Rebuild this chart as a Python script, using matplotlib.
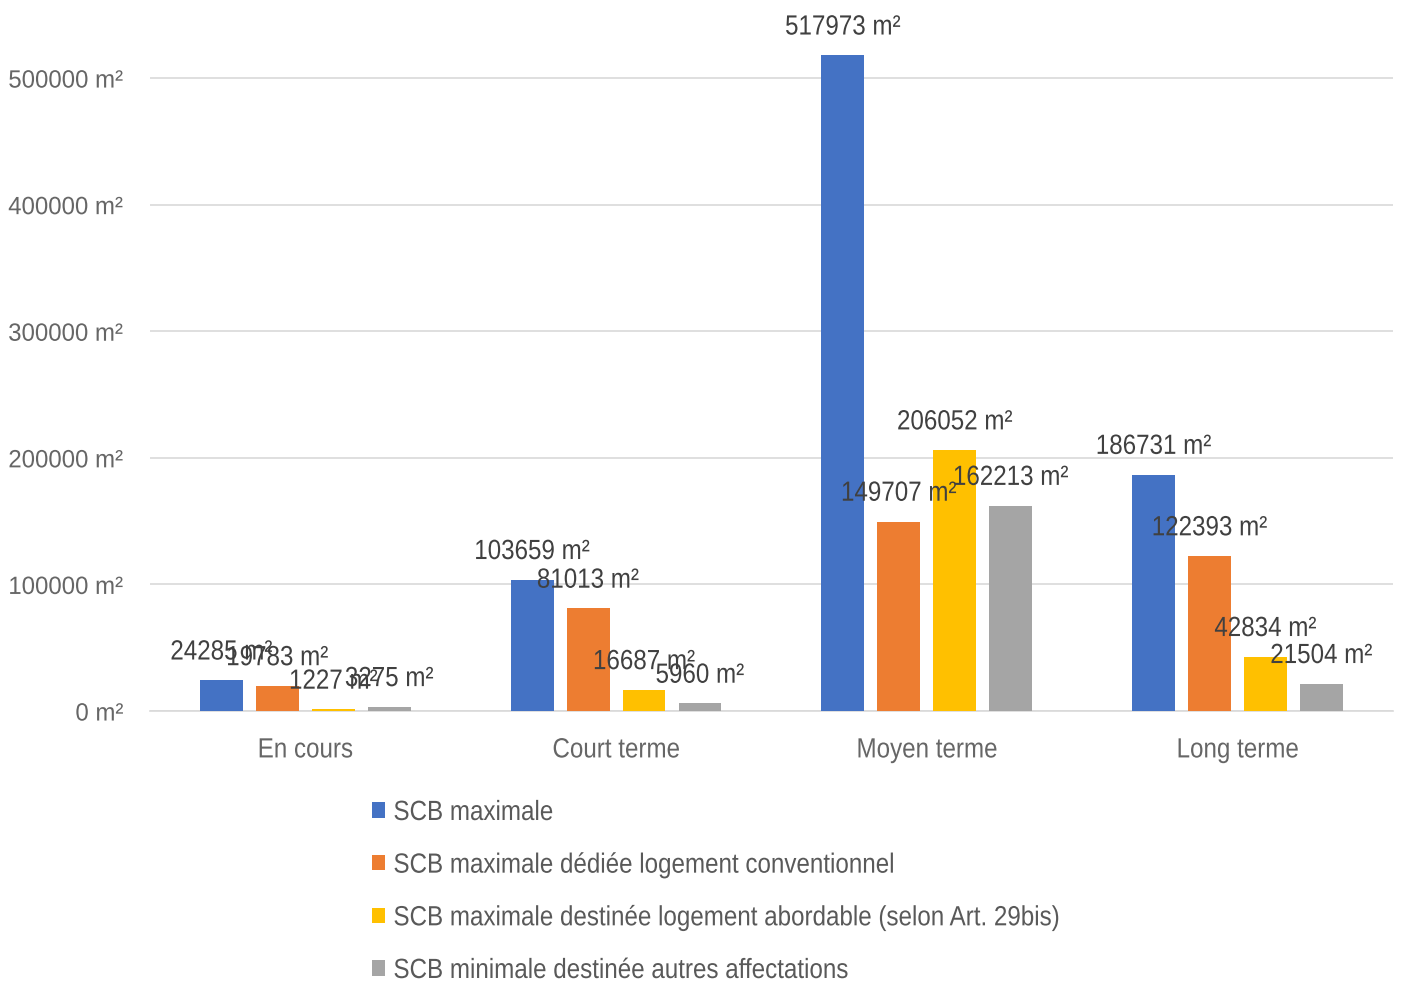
import matplotlib
matplotlib.use("Agg")
import matplotlib.pyplot as plt
from matplotlib.patches import Patch
from matplotlib.patheffects import AbstractPathEffect
from matplotlib.transforms import Affine2D
import numpy as np

plt.rcParams['font.family'] = ['Liberation Sans', 'DejaVu Sans']

categories = ["En cours", "Court terme", "Moyen terme", "Long terme"]
series_names = [
    "SCB maximale",
    "SCB maximale dédiée logement conventionnel",
    "SCB maximale destinée logement abordable (selon Art. 29bis)",
    "SCB minimale destinée autres affectations",
]
scb_max = [24285, 103659, 517973, 186731]
scb_conv = [19783, 81013, 149707, 122393]
scb_abord = [1227, 16687, 206052, 42834]
scb_autres = [3275, 5960, 162213, 21504]
y_ticks = [0, 100000, 200000, 300000, 400000, 500000]

series = [scb_max, scb_conv, scb_abord, scb_autres]
colors = ["#4472C4", "#ED7D31", "#FFC000", "#A5A5A5"]
label_color = "#404040"
axis_text_color = "#666666"
legend_color = "#595959"
FS = 20
SQUEEZE = 0.87


class Condensed(AbstractPathEffect):
    """Draw glyphs horizontally condensed, keeping the text's alignment."""

    def __init__(self, sx, align="left"):
        super().__init__()
        self.sx = sx
        self.align = align

    def draw_path(self, renderer, gc, tpath, affine, rgbFace=None):
        ext = tpath.get_extents()
        w = ext.x1
        shift = {"left": 0.0, "center": (1 - self.sx) * w / 2,
                 "right": (1 - self.sx) * w}[self.align]
        tr = Affine2D().scale(self.sx, 1.0).translate(shift, 0) + affine
        renderer.draw_path(gc, tpath, tr, rgbFace)


fig = plt.figure(figsize=(14.04, 9.84), dpi=100)
ax = fig.add_axes([0.1068, 0.2774, 0.8853, 0.7076])

x = np.arange(len(categories))
step = 0.18
width = 0.138
for i, (vals, col) in enumerate(zip(series, colors)):
    pos = x + (i - 1.5) * step
    ax.bar(pos, vals, width=width, color=col, zorder=3)
    for px, v in zip(pos, vals):
        t = ax.annotate(f"{v} m²", (px, v), xytext=(0, 20), textcoords="offset points",
                        ha="center", va="center", fontsize=FS, color=label_color, zorder=4)
        t.set_path_effects([Condensed(SQUEEZE, "center")])

ax.set_xlim(-0.5, 3.5)
ax.set_ylim(0, 550000)
ax.set_yticks(y_ticks)
ax.set_yticklabels([f"{t} m²" for t in y_ticks], fontsize=18, color=axis_text_color)
ax.set_xticks(x)
ax.set_xticklabels(categories, fontsize=FS, color=axis_text_color)
for t in ax.get_yticklabels():
    t.set_path_effects([Condensed(0.96, "right")])
for t in ax.get_xticklabels():
    t.set_path_effects([Condensed(SQUEEZE, "center")])
ax.tick_params(axis="both", length=0)
ax.tick_params(axis="y", pad=19)
ax.tick_params(axis="x", pad=19)
ax.grid(axis="y", color="#D9D9D9", linewidth=1.2, zorder=0)
for side in ["top", "right", "left"]:
    ax.spines[side].set_visible(False)
ax.spines["bottom"].set_color("#D9D9D9")
ax.spines["bottom"].set_linewidth(1.2)

handles = [Patch(facecolor=c, edgecolor="none") for c in colors]
leg = fig.legend(handles, series_names, loc="upper left",
                 bbox_to_anchor=(0.265, 0.187), frameon=False, fontsize=FS,
                 handlelength=0.47, handleheight=0.47, handletextpad=0.3,
                 labelspacing=0.96, borderaxespad=0, borderpad=0)
for t in leg.get_texts():
    t.set_color(legend_color)
    t.set_path_effects([Condensed(SQUEEZE, "left")])

fig.savefig("out.png", dpi=100, facecolor="white")
